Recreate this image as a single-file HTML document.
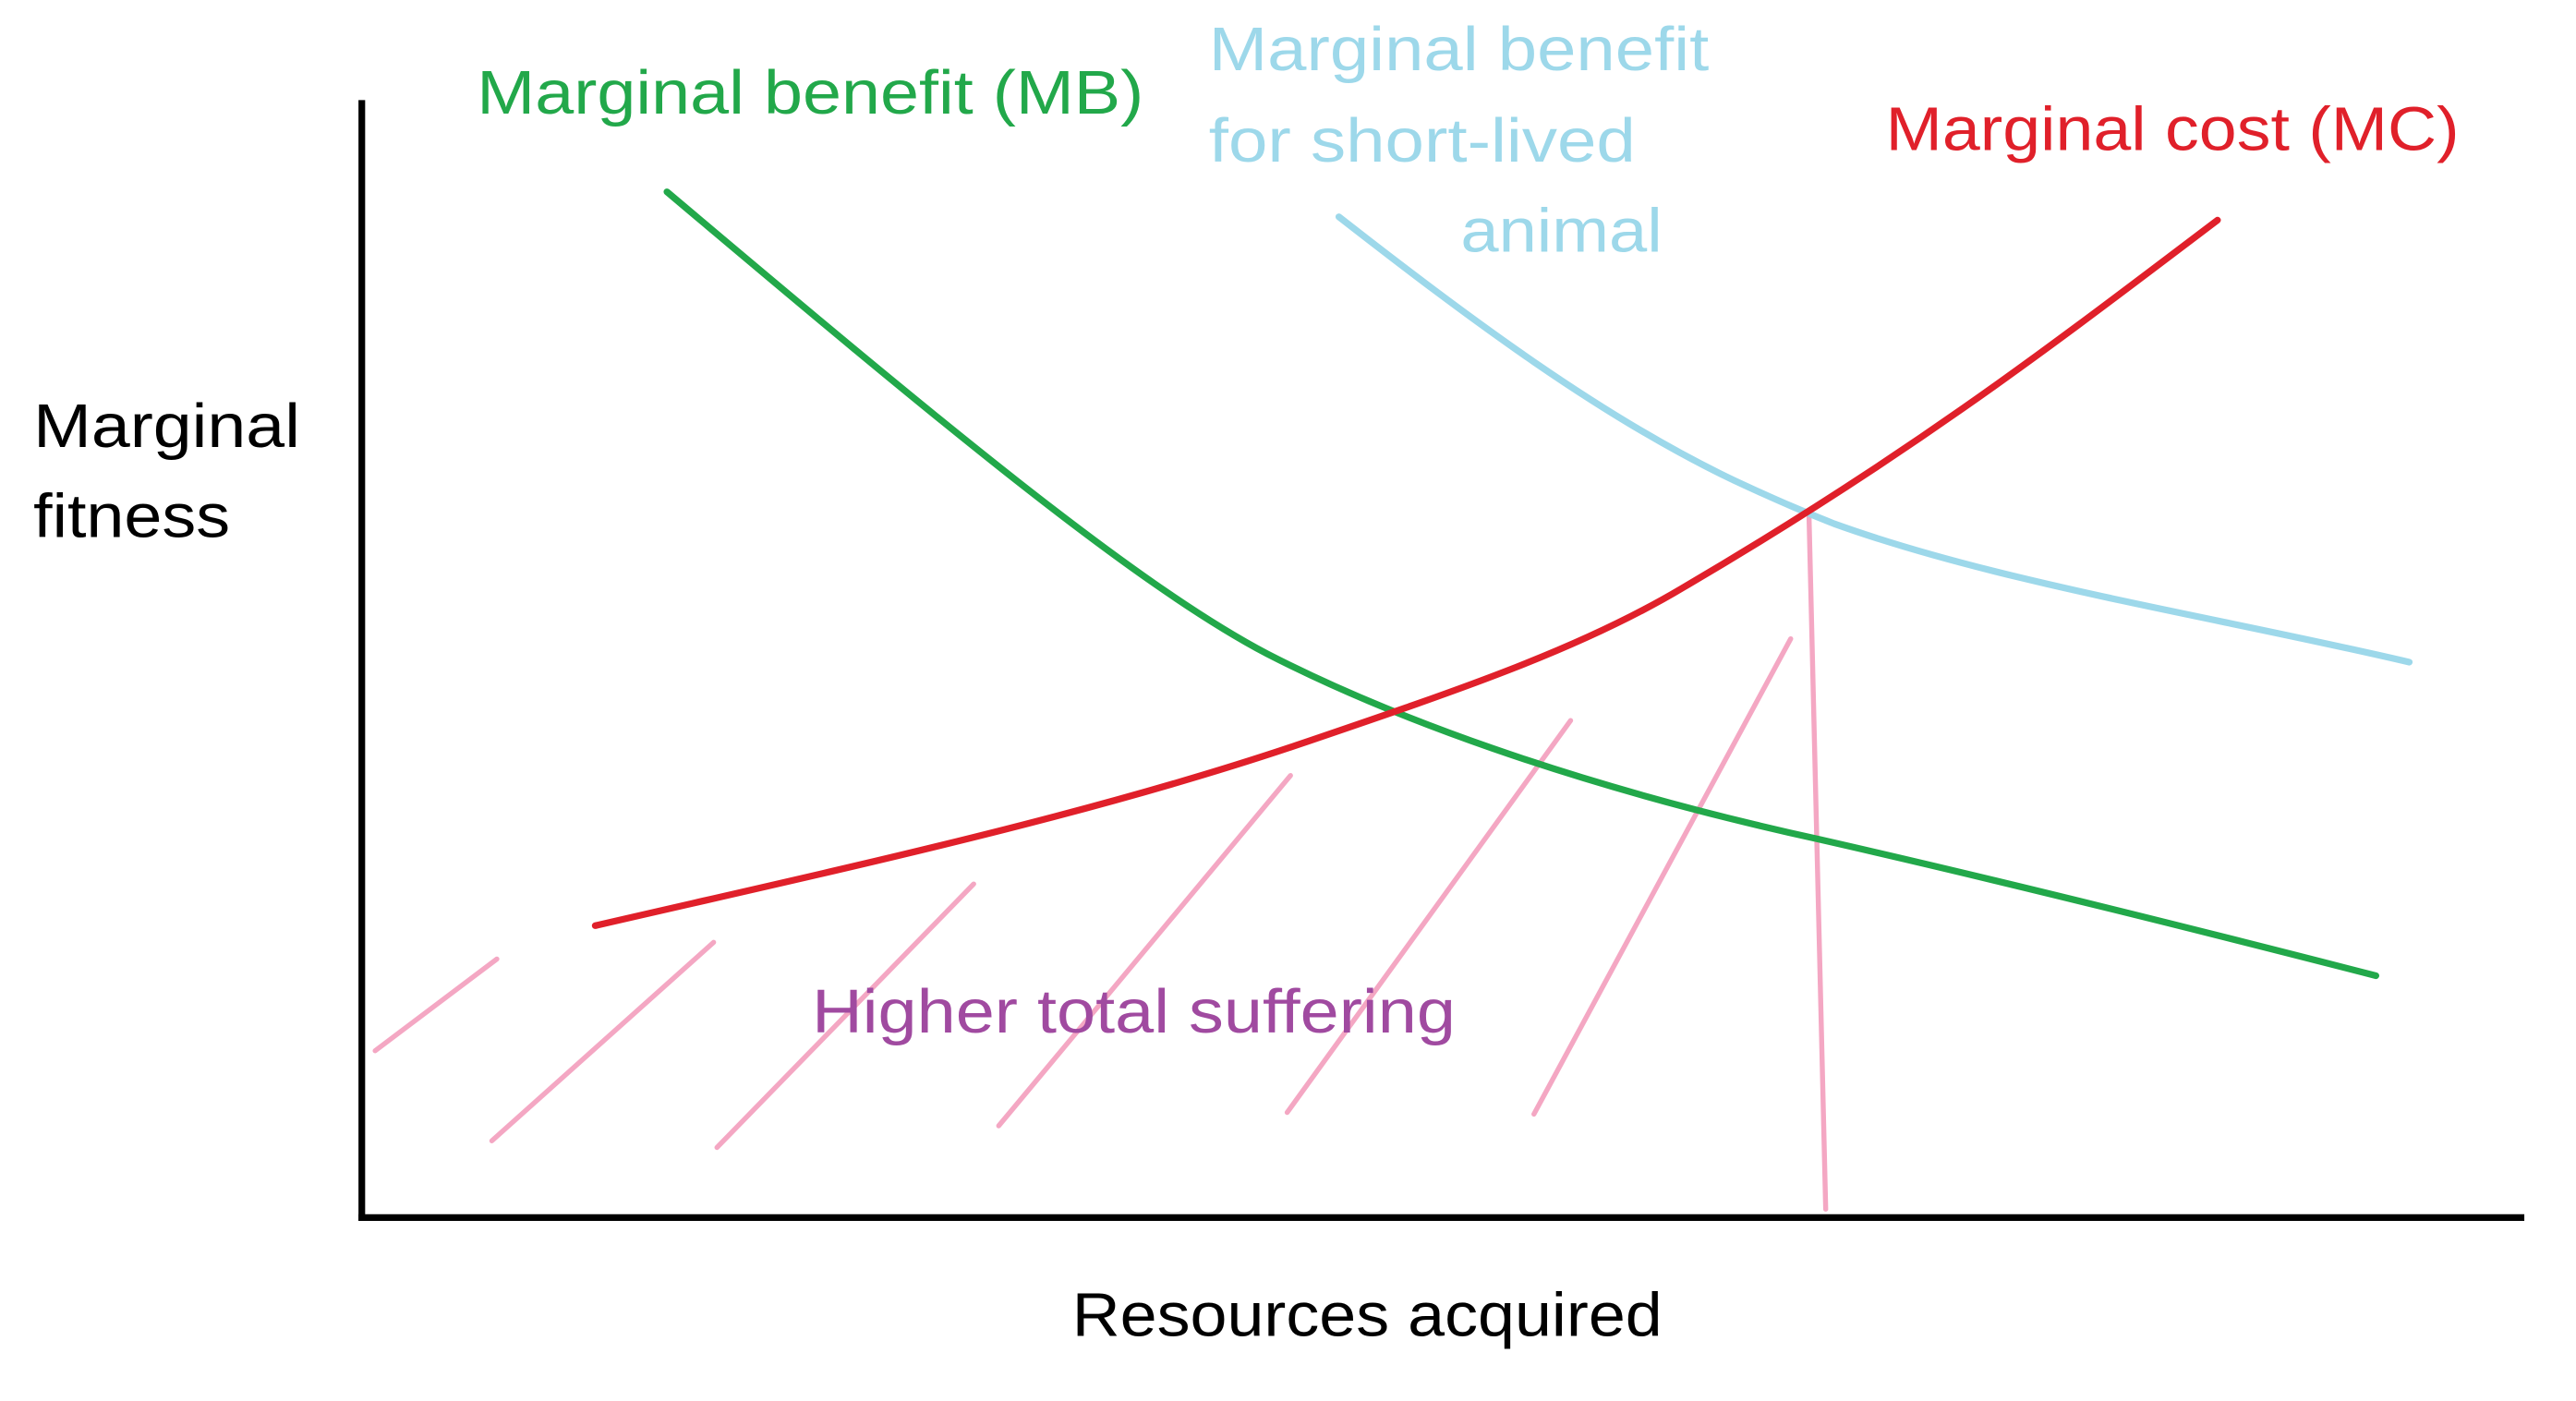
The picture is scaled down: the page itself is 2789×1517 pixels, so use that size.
<!DOCTYPE html>
<html><head><meta charset="utf-8"><style>
html,body{margin:0;padding:0;background:#fff;overflow:hidden}
svg{display:block}
text{font-family:"Liberation Sans",sans-serif;font-size:37px}
</style></head><body>
<svg width="2789" height="1517" viewBox="0 0 1545 840" preserveAspectRatio="none" xmlns="http://www.w3.org/2000/svg">
<rect width="1545" height="840" fill="#fff"/>
<line x1="217" y1="60" x2="217" y2="732" stroke="#000" stroke-width="4"/>
<line x1="215" y1="730" x2="1514" y2="730" stroke="#000" stroke-width="4"/>
<g stroke="#f4a7c3" stroke-width="3" stroke-linecap="round" fill="none">
<line x1="225" y1="630" x2="298" y2="575"/>
<line x1="295" y1="684" x2="428" y2="565"/>
<line x1="430" y1="688" x2="584" y2="530"/>
<line x1="599" y1="675" x2="774" y2="465"/>
<line x1="772" y1="667" x2="942" y2="432"/>
<line x1="920" y1="668" x2="1074" y2="383"/>
<line x1="1085" y1="310" x2="1095" y2="725"/>
</g>
<path d="M400,115 C560,250 680,350 760,392 C830,428 940,470 1090,503 C1200,528 1320,558 1425,585" stroke="#22a84a" stroke-width="4" fill="none" stroke-linecap="round"/>
<path d="M803,130 C880,190 960,250 1040,288 C1070,302 1085,308 1100,314 C1200,350 1330,370 1445,397" stroke="#9dd8ea" stroke-width="4" fill="none" stroke-linecap="round"/>
<path d="M357,555 C500,522 650,490 780,446 C880,412 950,388 1010,352 C1150,270 1240,200 1330,132" stroke="#e0202a" stroke-width="4" fill="none" stroke-linecap="round"/>
<text x="286" y="68" fill="#22a84a" textLength="400" lengthAdjust="spacingAndGlyphs">Marginal benefit (MB)</text>
<text x="725" y="42" fill="#9dd8ea" textLength="300" lengthAdjust="spacingAndGlyphs">Marginal benefit</text>
<text x="725" y="97" fill="#9dd8ea" textLength="256" lengthAdjust="spacingAndGlyphs">for short-lived</text>
<text x="876" y="151" fill="#9dd8ea" textLength="121" lengthAdjust="spacingAndGlyphs">animal</text>
<text x="1131" y="90" fill="#e0202a" textLength="344" lengthAdjust="spacingAndGlyphs">Marginal cost (MC)</text>
<text x="20" y="268" fill="#000" textLength="160" lengthAdjust="spacingAndGlyphs">Marginal</text>
<text x="20" y="322" fill="#000" textLength="118" lengthAdjust="spacingAndGlyphs">fitness</text>
<text x="643" y="801" fill="#000" textLength="354" lengthAdjust="spacingAndGlyphs">Resources acquired</text>
<text x="487" y="619" fill="#a04aa0" textLength="386" lengthAdjust="spacingAndGlyphs">Higher total suffering</text>
</svg>
</body></html>
